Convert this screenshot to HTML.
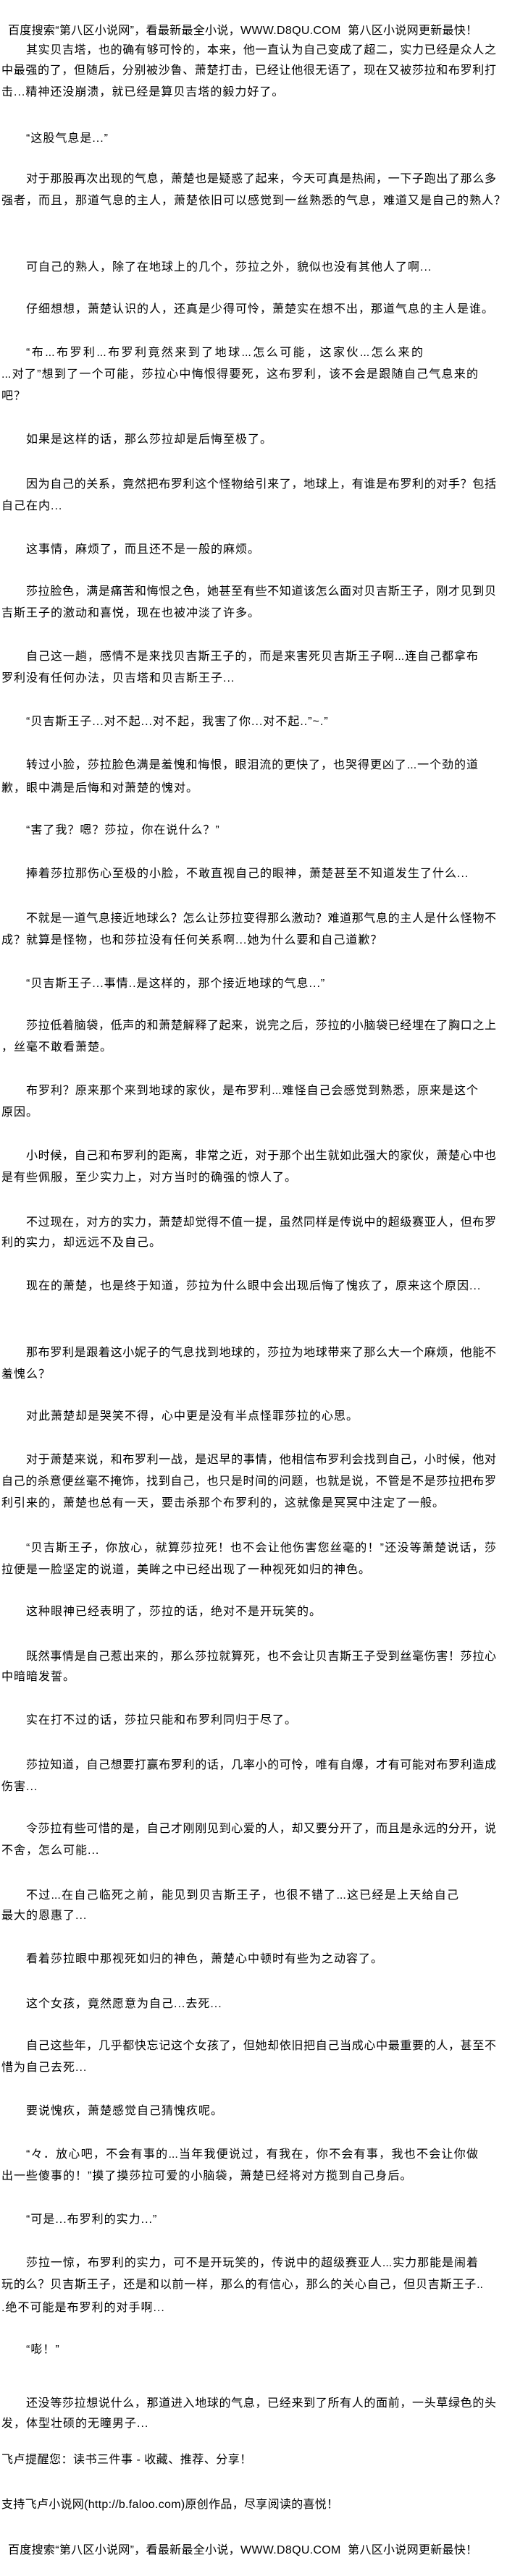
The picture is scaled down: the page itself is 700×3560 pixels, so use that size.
<!DOCTYPE html>
<html><head><meta charset="utf-8">
<style>
html,body{margin:0;padding:0;background:#fff;}
body{width:700px;height:3560px;position:relative;overflow:hidden;font-family:"Liberation Sans","Noto Sans CJK SC",sans-serif;font-size:16px;color:#000;}
.l{position:absolute;left:2px;height:30px;line-height:30px;white-space:nowrap;letter-spacing:1px;}
.i{left:36px;}
.f{letter-spacing:0;text-align:justify;text-align-last:justify;text-justify:inter-character;width:683px;}
.i.f{width:649px;}
.h{left:11px;letter-spacing:0.3px;}
</style></head><body>
<div class="l h" style="top:28px">百度搜索“第八区小说网”，看最新最全小说，WWW.D8QU.COM &nbsp;第八区小说网更新最快！</div>
<div class="l i f" style="top:55px">其实贝吉塔，也的确有够可怜的，本来，他一直认为自己变成了超二，实力已经是众人之</div>
<div class="l f" style="top:83px">中最强的了，但随后，分别被沙鲁、萧楚打击，已经让他很无语了，现在又被莎拉和布罗利打</div>
<div class="l" style="top:113px">击...精神还没崩溃，就已经是算贝吉塔的毅力好了。</div>
<div class="l i" style="top:177px">“这股气息是...”</div>
<div class="l i f" style="top:233px">对于那股再次出现的气息，萧楚也是疑惑了起来，今天可真是热闹，一下子跑出了那么多</div>
<div class="l" style="top:263px">强者，而且，那道气息的主人，萧楚依旧可以感觉到一丝熟悉的气息，难道又是自己的熟人？</div>
<div class="l i" style="top:355px">可自己的熟人，除了在地球上的几个，莎拉之外，貌似也没有其他人了啊...</div>
<div class="l i" style="top:413px">仔细想想，萧楚认识的人，还真是少得可怜，萧楚实在想不出，那道气息的主人是谁。</div>
<div class="l i f" style="top:473px;width:548px">“布...布罗利...布罗利竟然来到了地球...怎么可能，这家伙...怎么来的</div>
<div class="l f" style="top:503px;width:658px">...对了”想到了一个可能，莎拉心中悔恨得要死，这布罗利，该不会是跟随自己气息来的</div>
<div class="l" style="top:533px">吧？</div>
<div class="l i" style="top:593px">如果是这样的话，那么莎拉却是后悔至极了。</div>
<div class="l i f" style="top:655px">因为自己的关系，竟然把布罗利这个怪物给引来了，地球上，有谁是布罗利的对手？包括</div>
<div class="l" style="top:685px">自己在内...</div>
<div class="l i" style="top:745px">这事情，麻烦了，而且还不是一般的麻烦。</div>
<div class="l i f" style="top:803px">莎拉脸色，满是痛苦和悔恨之色，她甚至有些不知道该怎么面对贝吉斯王子，刚才见到贝</div>
<div class="l" style="top:833px">吉斯王子的激动和喜悦，现在也被冲淡了许多。</div>
<div class="l i f" style="top:893px;width:624px">自己这一趟，感情不是来找贝吉斯王子的，而是来害死贝吉斯王子啊...连自己都拿布</div>
<div class="l" style="top:923px">罗利没有任何办法，贝吉塔和贝吉斯王子...</div>
<div class="l i" style="top:983px">“贝吉斯王子...对不起...对不起，我害了你...对不起..”~.”</div>
<div class="l i f" style="top:1043px;width:624px">转过小脸，莎拉脸色满是羞愧和悔恨，眼泪流的更快了，也哭得更凶了...一个劲的道</div>
<div class="l" style="top:1075px">歉，眼中满是后悔和对萧楚的愧对。</div>
<div class="l i" style="top:1133px">“害了我？嗯？莎拉，你在说什么？”</div>
<div class="l i" style="top:1193px">捧着莎拉那伤心至极的小脸，不敢直视自己的眼神，萧楚甚至不知道发生了什么...</div>
<div class="l i f" style="top:1255px">不就是一道气息接近地球么？怎么让莎拉变得那么激动？难道那气息的主人是什么怪物不</div>
<div class="l" style="top:1285px">成？就算是怪物，也和莎拉没有任何关系啊...她为什么要和自己道歉？</div>
<div class="l i" style="top:1345px">“贝吉斯王子...事情..是这样的，那个接近地球的气息...”</div>
<div class="l i f" style="top:1403px">莎拉低着脑袋，低声的和萧楚解释了起来，说完之后，莎拉的小脑袋已经埋在了胸口之上</div>
<div class="l" style="top:1433px">，丝毫不敢看萧楚。</div>
<div class="l i f" style="top:1493px;width:624px">布罗利？原来那个来到地球的家伙，是布罗利...难怪自己会感觉到熟悉，原来是这个</div>
<div class="l" style="top:1523px">原因。</div>
<div class="l i f" style="top:1583px">小时候，自己和布罗利的距离，非常之近，对于那个出生就如此强大的家伙，萧楚心中也</div>
<div class="l" style="top:1613px">是有些佩服，至少实力上，对方当时的确强的惊人了。</div>
<div class="l i f" style="top:1675px">不过现在，对方的实力，萧楚却觉得不值一提，虽然同样是传说中的超级赛亚人，但布罗</div>
<div class="l" style="top:1703px">利的实力，却远远不及自己。</div>
<div class="l i" style="top:1763px">现在的萧楚，也是终于知道，莎拉为什么眼中会出现后悔了愧疚了，原来这个原因...</div>
<div class="l i f" style="top:1855px">那布罗利是跟着这小妮子的气息找到地球的，莎拉为地球带来了那么大一个麻烦，他能不</div>
<div class="l" style="top:1885px">羞愧么？</div>
<div class="l i" style="top:1943px">对此萧楚却是哭笑不得，心中更是没有半点怪罪莎拉的心思。</div>
<div class="l i f" style="top:2003px">对于萧楚来说，和布罗利一战，是迟早的事情，他相信布罗利会找到自己，小时候，他对</div>
<div class="l f" style="top:2033px">自己的杀意便丝毫不掩饰，找到自己，也只是时间的问题，也就是说，不管是不是莎拉把布罗</div>
<div class="l" style="top:2063px">利引来的，萧楚也总有一天，要击杀那个布罗利的，这就像是冥冥中注定了一般。</div>
<div class="l i f" style="top:2125px">“贝吉斯王子，你放心，就算莎拉死！也不会让他伤害您丝毫的！”还没等萧楚说话，莎</div>
<div class="l" style="top:2155px">拉便是一脸坚定的说道，美眸之中已经出现了一种视死如归的神色。</div>
<div class="l i" style="top:2213px">这种眼神已经表明了，莎拉的话，绝对不是开玩笑的。</div>
<div class="l i f" style="top:2275px">既然事情是自己惹出来的，那么莎拉就算死，也不会让贝吉斯王子受到丝毫伤害！莎拉心</div>
<div class="l" style="top:2303px">中暗暗发誓。</div>
<div class="l i" style="top:2363px">实在打不过的话，莎拉只能和布罗利同归于尽了。</div>
<div class="l i f" style="top:2425px">莎拉知道，自己想要打赢布罗利的话，几率小的可怜，唯有自爆，才有可能对布罗利造成</div>
<div class="l" style="top:2455px">伤害...</div>
<div class="l i f" style="top:2513px">令莎拉有些可惜的是，自己才刚刚见到心爱的人，却又要分开了，而且是永远的分开，说</div>
<div class="l" style="top:2543px">不舍，怎么可能...</div>
<div class="l i f" style="top:2605px;width:597px">不过...在自己临死之前，能见到贝吉斯王子，也很不错了...这已经是上天给自己</div>
<div class="l" style="top:2633px">最大的恩惠了...</div>
<div class="l i" style="top:2693px">看着莎拉眼中那视死如归的神色，萧楚心中顿时有些为之动容了。</div>
<div class="l i" style="top:2755px">这个女孩，竟然愿意为自己...去死...</div>
<div class="l i f" style="top:2813px">自己这些年，几乎都快忘记这个女孩了，但她却依旧把自己当成心中最重要的人，甚至不</div>
<div class="l" style="top:2843px">惜为自己去死...</div>
<div class="l i" style="top:2903px">要说愧疚，萧楚感觉自己猜愧疚呢。</div>
<div class="l i f" style="top:2963px;width:624px">“々．放心吧，不会有事的...当年我便说过，有我在，你不会有事，我也不会让你做</div>
<div class="l" style="top:2993px">出一些傻事的！”摸了摸莎拉可爱的小脑袋，萧楚已经将对方揽到自己身后。</div>
<div class="l i" style="top:3053px">“可是...布罗利的实力...”</div>
<div class="l i f" style="top:3113px;width:624px">莎拉一惊，布罗利的实力，可不是开玩笑的，传说中的超级赛亚人...实力那能是闹着</div>
<div class="l f" style="top:3143px;width:665px">玩的么？贝吉斯王子，还是和以前一样，那么的有信心，那么的关心自己，但贝吉斯王子..</div>
<div class="l" style="top:3175px">.绝不可能是布罗利的对手啊...</div>
<div class="l i" style="top:3233px">“嘭！”</div>
<div class="l i f" style="top:3307px">还没等莎拉想说什么，那道进入地球的气息，已经来到了所有人的面前，一头草绿色的头</div>
<div class="l" style="top:3335px">发，体型壮硕的无瞳男子...</div>
<div class="l" style="top:3385px;letter-spacing:0.5px">飞卢提醒您：读书三件事 - 收藏、推荐、分享！</div>
<div class="l" style="top:3447px;letter-spacing:0.3px">支持飞卢小说网(http://b.faloo.com)原创作品，尽享阅读的喜悦！</div>
<div class="l h" style="top:3510px">百度搜索“第八区小说网”，看最新最全小说，WWW.D8QU.COM &nbsp;第八区小说网更新最快！</div>
</body></html>
